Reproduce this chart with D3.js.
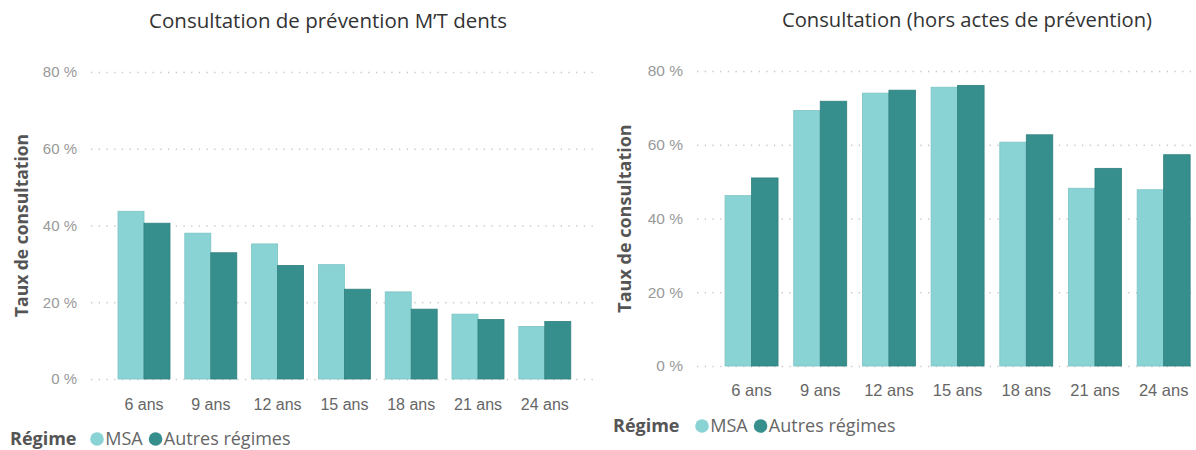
<!DOCTYPE html>
<html>
<head>
<meta charset="utf-8">
<script src="https://cdn.jsdelivr.net/npm/d3@7"></script>
<style>
  body { margin: 0; background: #fff; }
  svg { display: block; font-family: "Segoe UI", "Open Sans", sans-serif; }
</style>
</head>
<body>
<div id="chart"></div>
<script>
// data
const categories = ["6 ans", "9 ans", "12 ans", "15 ans", "18 ans", "21 ans", "24 ans"];
const seriesNames = ["MSA", "Autres régimes"];
const mtDentsMSA = [43.7, 38.0, 35.2, 29.8, 22.7, 16.9, 13.7];
const mtDentsAutres = [40.6, 32.9, 29.6, 23.4, 18.2, 15.5, 15.0];
const horsPrevMSA = [46.2, 69.3, 74.0, 75.6, 60.7, 48.2, 47.8];
const horsPrevAutres = [51.0, 71.8, 74.8, 76.1, 62.7, 53.6, 57.3];
const yTicks = [0, 20, 40, 60, 80];
const titles = ["Consultation de prévention M’T dents", "Consultation (hors actes de prévention)"];
const yTitle = "Taux de consultation";
const legendTitle = "Régime";

const colors = ["#8ad3d4", "#378f8d"];
const strokes = ["#7cc4c5", "#2f807e"];

const W = 1196, H = 450;
const svg = d3.select("#chart").append("svg")
    .attr("width", W)
    .attr("height", H);

function drawPanel(opt, msa, autres) {
    const g = svg.append("g");
    const y = d3.scaleLinear().domain([0, 80]).range([opt.y0, opt.y80]);
    const x = d3.scaleBand().domain(categories)
        .range([opt.xb0, opt.xb1])
        .paddingInner(opt.padIn)
        .paddingOuter(opt.padIn / 2);
    const xs = d3.scaleBand().domain(seriesNames).range([0, x.bandwidth()]);

    // title
    g.append("text")
        .attr("x", opt.titleX).attr("y", opt.titleY)
        .attr("text-anchor", "middle")
        .attr("font-size", opt.fsTitle)
        .attr("fill", "#333")
        .text(opt.title);

    // grid
    g.selectAll(".grid").data(yTicks).join("line")
        .attr("x1", opt.gx0).attr("x2", opt.gx1)
        .attr("y1", d => y(d) + 0.5).attr("y2", d => y(d) + 0.5)
        .attr("stroke", "#c8c8c8")
        .attr("stroke-width", 1.3)
        .attr("stroke-dasharray", "1.3,6.4");

    // y axis labels
    const yAxis = d3.axisLeft(y).tickValues(yTicks).tickSize(0).tickPadding(0)
        .tickFormat(d => d + " %");
    g.append("g")
        .attr("transform", `translate(${opt.labelX},0)`)
        .call(yAxis)
        .call(a => a.select(".domain").remove())
        .call(a => a.selectAll("text")
            .attr("font-size", opt.fsTick)
            .attr("font-family", "inherit")
            .attr("fill", "#999"));

    // y title
    g.append("text")
        .attr("transform", `translate(${opt.yTitleX},${(opt.y0 + opt.y80) / 2}) rotate(-90)`)
        .attr("text-anchor", "middle")
        .attr("dy", "0.35em")
        .attr("font-size", opt.fsYTitle)
        .attr("font-weight", "bold")
        .attr("fill", "#555")
        .text(yTitle);

    // bars
    const rows = categories.map((c, i) => ({ cat: c, vals: [msa[i], autres[i]] }));
    const grp = g.selectAll(".grp").data(rows).join("g")
        .attr("transform", d => `translate(${x(d.cat)},0)`);
    grp.selectAll("rect").data(d => d.vals.map((v, k) => ({ v, k })))
        .join("rect")
        .attr("x", d => xs(seriesNames[d.k]))
        .attr("width", xs.bandwidth())
        .attr("y", d => y(d.v))
        .attr("height", d => y(0) - y(d.v))
        .attr("fill", d => colors[d.k])
        .attr("stroke", d => strokes[d.k])
        .attr("stroke-width", 0.8);

    // x axis labels
    const xAxis = d3.axisBottom(x).tickSize(0).tickPadding(0);
    g.append("g")
        .attr("transform", `translate(0,${opt.xLabelY})`)
        .call(xAxis)
        .call(a => a.select(".domain").remove())
        .call(a => a.selectAll("text")
            .attr("font-size", opt.fsX)
            .attr("font-family", "inherit")
            .attr("fill", "#666"));

    // legend
    const lg = g.append("g").attr("transform", `translate(${opt.legX},${opt.legY})`);
    lg.append("text")
        .attr("x", 0).attr("dy", "0.35em")
        .attr("font-size", opt.fsLeg)
        .attr("font-weight", "bold")
        .attr("fill", "#555")
        .text(legendTitle);
    let cx = opt.legFirst - opt.legX;
    seriesNames.forEach((s, k) => {
        lg.append("circle").attr("cx", cx).attr("cy", 0).attr("r", opt.dotR)
            .attr("fill", colors[k]);
        const t = lg.append("text")
            .attr("x", cx + opt.dotR + 1.5).attr("dy", "0.35em")
            .attr("font-size", opt.fsLeg)
            .attr("fill", "#666")
            .text(s);
        cx += opt.dotR + 1.5 + t.node().getComputedTextLength() + opt.dotR + 6;
    });
}

drawPanel({
    title: titles[0], titleX: 328, titleY: 28,
    y0: 379, y80: 72, gx0: 91, gx1: 598, labelX: 77, yTitleX: 22,
    xb0: 110.6, xb1: 578.2, padIn: 0.2216,
    xLabelY: 399, legX: 10, legY: 439, legFirst: 97, dotR: 6.8,
    fsTitle: 20.5, fsTick: 15, fsX: 16, fsLeg: 18, fsYTitle: 17.5
}, mtDentsMSA, mtDentsAutres);

drawPanel({
    title: titles[1], titleX: 967, titleY: 27,
    y0: 366, y80: 71, gx0: 697, gx1: 1192, labelX: 683, yTitleX: 625,
    xb0: 717.2, xb1: 1198, padIn: 0.2285,
    xLabelY: 384, legX: 613, legY: 426, legFirst: 702, dotR: 6.8,
    fsTitle: 20.2, fsTick: 15.5, fsX: 16.5, fsLeg: 18, fsYTitle: 18
}, horsPrevMSA, horsPrevAutres);
</script>
</body>
</html>
